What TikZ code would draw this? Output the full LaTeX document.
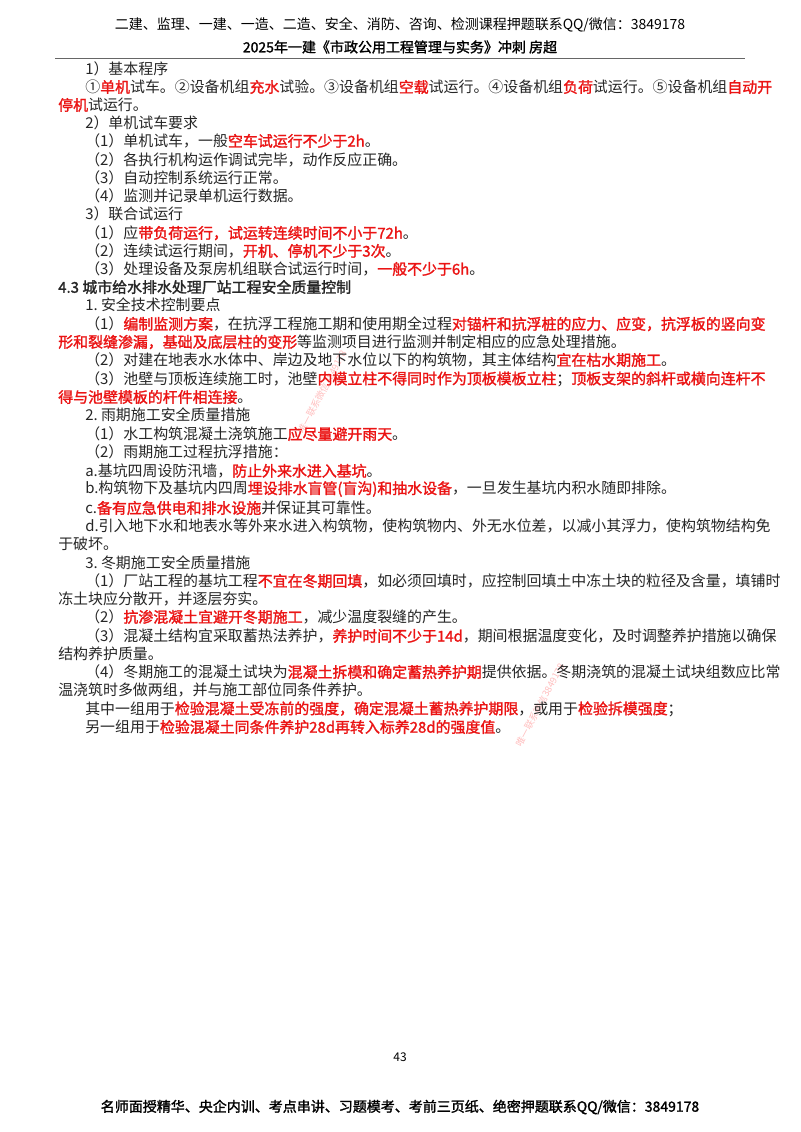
\documentclass[tikz,border=0pt]{standalone}
\usepackage{fontspec}
\setmainfont{Noto Sans CJK SC}
\newfontfamily\cjkb{Noto Sans CJK SC}[FakeBold=1.6]
\definecolor{hred}{RGB}{235,20,20}
\newcommand{\hl}[1]{{\cjkb\color{hred}#1}}
\newcommand{\bd}[1]{{\cjkb #1}}
\begin{document}
\begin{tikzpicture}[x=0.75pt,y=-0.75pt,
  ln/.style={anchor=west,inner sep=0pt,font=\fontsize{11.2pt}{13pt}\selectfont,text=black!85},
  hd/.style={anchor=center,inner sep=0pt,font=\fontsize{10.5pt}{12pt}\selectfont,text=black}]
\useasboundingbox[fill=white] (0,0) rectangle (800,1132);
\node[hd] (h1) at (400,25) {二建、监理、一建、一造、二造、安全、消防、咨询、检测课程押题联系QQ/微信：3849178};
\node[hd] (h2) at (400,47) {\bd{2025年一建《市政公用工程管理与实务》冲刺\ 房超}};
\draw[black!60,line width=0.8pt] (55,58.5) -- (745,58.5);
% watermarks
\node[rotate=62,text=red!25,font=\fontsize{7pt}{8pt}\selectfont] (w1) at (322,392) {唯一联系微信3849178};
\node[rotate=62,text=red!25,font=\fontsize{7pt}{8pt}\selectfont] (w2) at (540,705) {唯一联系微信3849178};
\node[ln] (l1) at (85,69) {1）基本程序};
\node[ln] (l2) at (85,87) {①\hl{单机}试车。②设备机组\hl{充水}试验。③设备机组\hl{空载}试运行。④设备机组\hl{负荷}试运行。⑤设备机组\hl{自动开}};
\node[ln] (l3) at (58,105) {\hl{停机}试运行。};
\node[ln] (l4) at (85,123) {2）单机试车要求};
\node[ln] (l5) at (85,141) {（1）单机试车，一般\hl{空车试运行不少于2h}。};
\node[ln] (l6) at (85,160) {（2）各执行机构运作调试完毕，动作反应正确。};
\node[ln] (l7) at (85,178) {（3）自动控制系统运行正常。};
\node[ln] (l8) at (85,196) {（4）监测并记录单机运行数据。};
\node[ln] (l9) at (85,214) {3）联合试运行};
\node[ln] (l10) at (85,233) {（1）应\hl{带负荷运行，试运转连续时间不小于72h}。};
\node[ln] (l11) at (85,251) {（2）连续试运行期间，\hl{开机、停机不少于3次}。};
\node[ln] (l12) at (85,269) {（3）处理设备及泵房机组联合试运行时间，\hl{一般不少于6h}。};
\node[ln] (l13) at (58,287) {\bd{4.3\ 城市给水排水处理厂站工程安全质量控制}};
\node[ln] (l14) at (85,305) {1.\ 安全技术控制要点};
\node[ln] (l15) at (85,324) {（1）\hl{编制监测方案}，在抗浮工程施工期和使用期全过程\hl{对锚杆和抗浮桩的应力、应变，抗浮板的竖向变}};
\node[ln] (l16) at (58,342) {\hl{形和裂缝渗漏，基础及底层柱的变形}等监测项目进行监测并制定相应的应急处理措施。};
\node[ln] (l17) at (85,360) {（2）对建在地表水水体中、岸边及地下水位以下的构筑物，其主体结构\hl{宜在枯水期施工}。};
\node[ln] (l18) at (85,379) {（3）池壁与顶板连续施工时，池壁\hl{内模立柱不得同时作为顶板模板立柱}；\hl{顶板支架的斜杆或横向连杆不}};
\node[ln] (l19) at (58,397) {\hl{得与池壁模板的杆件相连接}。};
\node[ln] (l20) at (85,415) {2.\ 雨期施工安全质量措施};
\node[ln] (l21) at (85,434) {（1）水工构筑混凝土浇筑施工\hl{应尽量避开雨天}。};
\node[ln] (l22) at (85,452) {（2）雨期施工过程抗浮措施：};
\node[ln] (l23) at (85,471) {a.基坑四周设防汛墙，\hl{防止外来水进入基坑}。};
\node[ln] (l24) at (85,489) {b.构筑物下及基坑内四周\hl{埋设排水盲管(盲沟)和抽水设备}，一旦发生基坑内积水随即排除。};
\node[ln] (l25) at (85,508) {c.\hl{备有应急供电和排水设施}并保证其可靠性。};
\node[ln] (l26) at (85,526) {d.引入地下水和地表水等外来水进入构筑物，使构筑物内、外无水位差，以减小其浮力，使构筑物结构免};
\node[ln] (l27) at (58,544) {于破坏。};
\node[ln] (l28) at (85,563) {3.\ 冬期施工安全质量措施};
\node[ln] (l29) at (85,581) {（1）厂站工程的基坑工程\hl{不宜在冬期回填}，如必须回填时，应控制回填土中冻土块的粒径及含量，填铺时};
\node[ln] (l30) at (58,599) {冻土块应分散开，并逐层夯实。};
\node[ln] (l31) at (85,617) {（2）\hl{抗渗混凝土宜避开冬期施工}，减少温度裂缝的产生。};
\node[ln] (l32) at (85,636) {（3）混凝土结构宜采取蓄热法养护，\hl{养护时间不少于14d}，期间根据温度变化，及时调整养护措施以确保};
\node[ln] (l33) at (58,654) {结构养护质量。};
\node[ln] (l34) at (85,672) {（4）冬期施工的混凝土试块为\hl{混凝土拆模和确定蓄热养护期}提供依据。冬期浇筑的混凝土试块组数应比常};
\node[ln] (l35) at (58,690) {温浇筑时多做两组，并与施工部位同条件养护。};
\node[ln] (l36) at (85,709) {其中一组用于\hl{检验混凝土受冻前的强度，确定混凝土蓄热养护期限}，或用于\hl{检验拆模强度}；};
\node[ln] (l37) at (85,727) {另一组用于\hl{检验混凝土同条件养护28d再转入标养28d的强度值}。};
\node[hd,font=\fontsize{9pt}{10pt}\selectfont] (pg) at (400,1057) {43};
\node[hd] (ft) at (400,1107) {\bd{名师面授精华、央企内训、考点串讲、习题模考、考前三页纸、绝密押题联系QQ/微信：3849178}};
\end{tikzpicture}
\end{document}
